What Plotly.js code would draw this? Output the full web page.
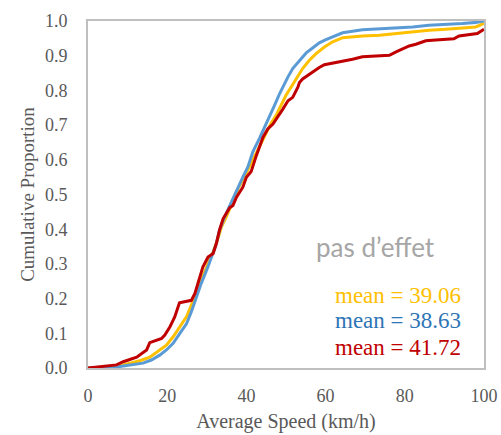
<!DOCTYPE html>
<html>
<head>
<meta charset="utf-8">
<script src="https://cdn.plot.ly/plotly-3.0.1.min.js"></script>
</head>
<body style="margin:0;background:#fff">
<div id="chart"></div>
<script>
const yellowX = [0,5.5,8.9,13.1,15.6,18.1,19.8,21.5,23.2,24.9,26.1,27.4,28.6,30.3,31.6,32.8,33.7,34.9,36.6,37.9,39.5,40.8,42.5,43.7,44.9,46.2,47.5,48.8,50,51.3,52.6,54.2,55.9,57.6,59.7,61.8,64.3,69.3,73.6,77.8,82,86.1,90.4,94.5,97.9,100];
const yellowY = [0,0.001,0.009,0.021,0.031,0.052,0.066,0.09,0.119,0.148,0.181,0.22,0.253,0.301,0.335,0.373,0.407,0.435,0.484,0.517,0.551,0.58,0.618,0.645,0.675,0.705,0.728,0.757,0.786,0.81,0.834,0.863,0.887,0.906,0.925,0.94,0.952,0.957,0.959,0.964,0.968,0.973,0.976,0.98,0.983,0.993];

const blueX = [0,6.4,8.9,13.9,16,18.1,19.8,21.5,23.2,24.9,26.1,27.4,28.6,30.3,31.6,32.4,33.2,34.5,36.6,37.5,39.1,40.4,41.6,43.3,44.6,45.8,47.1,48.4,49.2,50.5,51.7,53.4,55.1,56.8,58.4,60.1,61.8,64.3,69.3,73.6,77.8,82,86.1,90.4,94.5,97.9,100];
const blueY = [0,0.001,0.006,0.014,0.023,0.037,0.052,0.071,0.1,0.128,0.162,0.205,0.244,0.292,0.33,0.358,0.397,0.435,0.488,0.512,0.55,0.58,0.622,0.662,0.693,0.724,0.757,0.791,0.81,0.839,0.863,0.887,0.908,0.923,0.937,0.946,0.955,0.966,0.975,0.978,0.98,0.983,0.988,0.99,0.993,0.996,1.0];

const redX = [0,3,7.2,8.9,12.3,14.8,15.6,18.6,19.4,20.7,21.9,23.1,26.1,27,27.8,29,30.3,31.6,32.4,33.2,34.1,35.8,36.6,37.5,39.1,40,41.2,42.5,44.2,45.4,46.7,47.9,49.2,50.5,51.7,53,53.4,54.2,55.9,57.2,58.4,59.7,61,62.6,64.3,66.8,69.3,72.7,76.1,77.8,79.4,81.1,82.8,85.3,87.8,89.9,92.4,93.7,96.2,98.3,100];
const redY = [0,0.004,0.009,0.018,0.031,0.052,0.073,0.085,0.095,0.119,0.147,0.188,0.195,0.215,0.243,0.291,0.32,0.33,0.358,0.397,0.43,0.462,0.468,0.492,0.521,0.55,0.566,0.612,0.665,0.689,0.703,0.722,0.746,0.77,0.78,0.809,0.823,0.833,0.847,0.856,0.866,0.874,0.877,0.88,0.883,0.89,0.897,0.899,0.901,0.911,0.92,0.928,0.933,0.943,0.945,0.947,0.949,0.957,0.96,0.964,0.976];

const labelText = "pas d\u2019effet";
const meanLabels = ["mean = 39.06", "mean = 38.63", "mean = 41.72"];
const xTickVals = [0,20,40,60,80,100];
const yTickVals = [0,0.1,0.2,0.3,0.4,0.5,0.6,0.7,0.8,0.9,1.0];

const cYellow = "#FFC000", cBlue = "#5B9BD5", cBlueText = "#2E75B6", cRed = "#C00000";
const SERIF = "Liberation Serif";

const traces = [
  {x: yellowX, y: yellowY, mode: "lines", line: {color: cYellow, width: 3}, hoverinfo: "none"},
  {x: blueX, y: blueY, mode: "lines", line: {color: cBlue, width: 3}, hoverinfo: "none"},
  {x: redX, y: redY, mode: "lines", line: {color: cRed, width: 3}, hoverinfo: "none"}
];

const layout = {
  width: 501, height: 435,
  margin: {l: 88, r: 17, t: 21, b: 67, pad: 0},
  paper_bgcolor: "#fff", plot_bgcolor: "#fff",
  showlegend: false,
  xaxis: {
    range: [0, 100], tickvals: xTickVals, showgrid: false, zeroline: false,
    showline: true, mirror: true, linecolor: "#BFBFBF", linewidth: 2,
    ticks: "", ticklabelstandoff: 10,
    tickfont: {family: SERIF, size: 18, color: "#595959"},
    title: {text: "Average Speed (km/h)", font: {family: SERIF, size: 20, color: "#595959"}, standoff: 9},
    fixedrange: true
  },
  yaxis: {
    range: [0, 1.0], tickvals: yTickVals, tickformat: ".1f", showgrid: false, zeroline: false,
    showline: true, mirror: true, linecolor: "#BFBFBF", linewidth: 2,
    ticks: "", ticklabelstandoff: 15,
    tickfont: {family: SERIF, size: 18, color: "#595959"},
    title: {text: "Cumulative Proportion", font: {family: SERIF, size: 19, color: "#595959"}, standoff: 5},
    fixedrange: true
  },
  annotations: [
    {xref: "paper", yref: "paper", x: 0.725, y: 0.348, xanchor: "center", yanchor: "middle", showarrow: false,
     text: labelText, font: {family: "Lato", size: 26, color: "#A6A6A6"}},
    {xref: "paper", yref: "paper", x: 0.948, y: 0.210, xanchor: "right", yanchor: "middle", showarrow: false,
     text: meanLabels[0], font: {family: SERIF, size: 23, color: cYellow}},
    {xref: "paper", yref: "paper", x: 0.948, y: 0.137, xanchor: "right", yanchor: "middle", showarrow: false,
     text: meanLabels[1], font: {family: SERIF, size: 23, color: cBlueText}},
    {xref: "paper", yref: "paper", x: 0.948, y: 0.060, xanchor: "right", yanchor: "middle", showarrow: false,
     text: meanLabels[2], font: {family: SERIF, size: 23, color: cRed}}
  ]
};

Plotly.newPlot("chart", traces, layout, {staticPlot: true, displayModeBar: false});
</script>
</body>
</html>
